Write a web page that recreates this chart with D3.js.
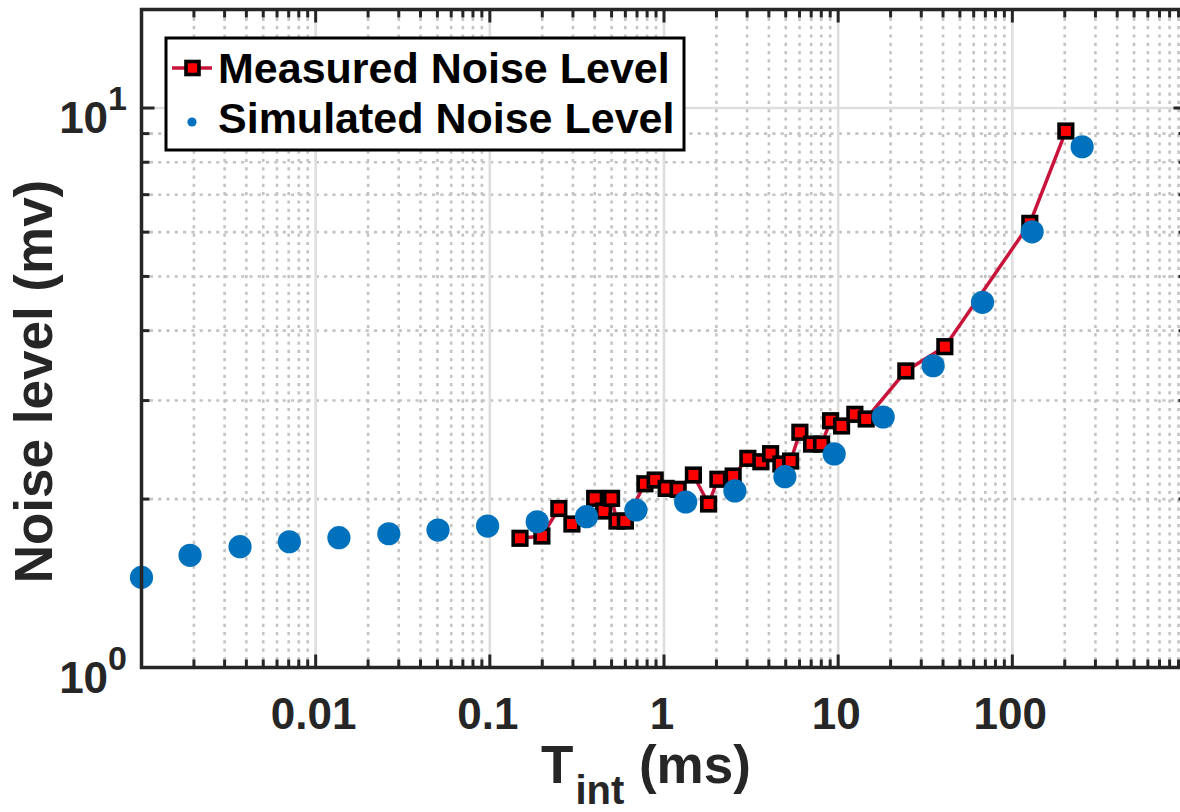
<!DOCTYPE html>
<html><head><meta charset="utf-8">
<script src="https://cdn.jsdelivr.net/npm/d3@7/dist/d3.min.js"></script>
<style>body{margin:0;background:#fff}svg{display:block}text{font-family:"Liberation Sans",Arial,sans-serif;font-weight:bold}</style>
</head><body><svg id="c" width="1180" height="812"></svg>
<script>
// Data
const measuredX = [0.149,0.199,0.249,0.296,0.400,0.450,0.500,0.537,0.600,0.777,0.890,1.029,1.206,1.475,1.803,2.039,2.495,3.030,3.600,4.093,4.690,5.332,6.028,7.036,8.030,9.046,10.46,12.47,14.48,24.47,40.98,126.0,202.9];
const measuredY = [1.702,1.718,1.924,1.805,2.006,1.904,2.006,1.827,1.827,2.130,2.163,2.090,2.082,2.208,1.960,2.170,2.199,2.365,2.332,2.411,2.311,2.339,2.633,2.508,2.508,2.761,2.702,2.835,2.781,3.389,3.745,6.221,9.097];
const simulatedX = [0.001,0.0019,0.00368,0.00706,0.0136,0.0263,0.0504,0.0971,0.187,0.359,0.690,1.332,2.553,4.943,9.486,18.13,35.1,67.4,129.9,251.6];
const simulatedY = [1.449,1.587,1.644,1.678,1.706,1.734,1.761,1.790,1.822,1.860,1.912,1.976,2.068,2.193,2.408,2.804,3.462,4.495,6.009,8.527];
const xTickValues = [0.01,0.1,1,10,100];
const xTickLabels = ["0.01","0.1","1","10","100"];
const yTickValues = [1,10];
const yTickExp = ["0","1"];
const legendLabels = ["Measured Noise Level","Simulated Noise Level"];

const L=141.5,R=1186.5,T=9.5,B=667.5;
const x=d3.scaleLog().domain([0.001,1000]).range([L,R]);
const y=d3.scaleLog().domain([1,15]).range([B,T]);
const svg=d3.select("#c");
const axc="#262626";

const xMinor=[];for(let e=-3;e<3;e++)for(let k=2;k<=9;k++)xMinor.push(k*Math.pow(10,e));
const yMinor=[2,3,4,5,6,7,8,9];
const g=svg.append("g");
g.selectAll(".vm").data(xMinor).enter().append("line").attr("x1",d=>x(d)).attr("x2",d=>x(d)).attr("y1",T).attr("y2",B)
 .attr("stroke","#c4c4c4").attr("stroke-width",2.6).attr("stroke-dasharray","3.2,5.1");
g.selectAll(".hm").data(yMinor).enter().append("line").attr("y1",d=>y(d)).attr("y2",d=>y(d)).attr("x1",L).attr("x2",R)
 .attr("stroke","#c4c4c4").attr("stroke-width",2.6).attr("stroke-dasharray","3.2,5.1");
g.selectAll(".vM").data([0.01,0.1,1,10,100]).enter().append("line").attr("x1",d=>x(d)).attr("x2",d=>x(d)).attr("y1",T).attr("y2",B)
 .attr("stroke","#dedede").attr("stroke-width",2.6);
g.selectAll(".hM").data([10]).enter().append("line").attr("y1",d=>y(d)).attr("y2",d=>y(d)).attr("x1",L).attr("x2",R)
 .attr("stroke","#dedede").attr("stroke-width",2.6);

const line=d3.line().x((d,i)=>x(measuredX[i])).y((d,i)=>y(measuredY[i]));
svg.append("path").attr("d",line(measuredX)).attr("fill","none").attr("stroke","#c8143a").attr("stroke-width",3.5);
svg.selectAll(".sq").data(measuredX).enter().append("rect")
 .attr("x",(d,i)=>x(d)-6.8).attr("y",(d,i)=>y(measuredY[i])-6.8).attr("width",13.6).attr("height",13.6)
 .attr("fill","#ff0000").attr("stroke","#000").attr("stroke-width",3.6);
svg.selectAll(".ci").data(simulatedX).enter().append("circle")
 .attr("cx",d=>x(d)).attr("cy",(d,i)=>y(simulatedY[i])).attr("r",11.6).attr("fill","#0072bd");

const ax=svg.append("g");
const tk=(x1,y1,x2,y2,w)=>ax.append("line").attr("x1",x1).attr("y1",y1).attr("x2",x2).attr("y2",y2).attr("stroke",axc).attr("stroke-width",w||3);
xMinor.forEach(v=>{const p=x(v);tk(p,B,p,B-8);tk(p,T,p,T+8);});
[0.001,0.01,0.1,1,10,100].forEach(v=>{const p=x(v);tk(p,B,p,B-13);tk(p,T,p,T+13);});
yMinor.forEach(v=>{const p=y(v);tk(L,p,L+8,p);tk(R,p,R-8,p);});
yTickValues.forEach(v=>{const p=y(v);tk(L,p,L+13,p);tk(R,p,R-13,p);});
ax.append("rect").attr("x",L).attr("y",T).attr("width",R-L).attr("height",B-T).attr("fill","none").attr("stroke",axc).attr("stroke-width",3.5);

svg.selectAll(".xl").data(xTickValues).enter().append("text").attr("x",d=>x(d)-2).attr("y",729)
 .attr("text-anchor","middle").attr("font-size",44).attr("fill",axc).text((d,i)=>xTickLabels[i]);
yTickValues.forEach((v,i)=>{
  const t=svg.append("text").attr("x",127).attr("y",y(v)+25).attr("text-anchor","end").attr("fill",axc);
  t.append("tspan").attr("font-size",44).text("10");
  t.append("tspan").attr("font-size",34).attr("dy",-23).text(yTickExp[i]);
});
const xl=svg.append("text").attr("x",541).attr("y",783).attr("fill",axc).attr("font-size",53);
xl.append("tspan").text("T");
xl.append("tspan").attr("font-size",40).attr("dy",21).attr("dx",2).text("int");
xl.append("tspan").attr("dy",-21).text(" (ms)");
svg.append("text").attr("transform","translate(52,381.5) rotate(-90)").attr("text-anchor","middle")
 .attr("font-size",53).attr("fill",axc).text("Noise level (mv)");

const lg=svg.append("g");
lg.append("rect").attr("x",166).attr("y",38).attr("width",518).attr("height",112).attr("fill","#fff").attr("stroke","#000").attr("stroke-width",3);
lg.append("line").attr("x1",172).attr("x2",212).attr("y1",68).attr("y2",68).attr("stroke","#c8143a").attr("stroke-width",3.5);
lg.append("rect").attr("x",186).attr("y",61.5).attr("width",13).attr("height",13).attr("fill","#ff0000").attr("stroke","#000").attr("stroke-width",3.6);
lg.append("circle").attr("cx",192).attr("cy",122).attr("r",4.6).attr("fill","#0072bd");
legendLabels.forEach((s,i)=>lg.append("text").attr("x",218).attr("y",83+i*50).attr("font-size",43).attr("fill","#000").text(s));
</script></body></html>
